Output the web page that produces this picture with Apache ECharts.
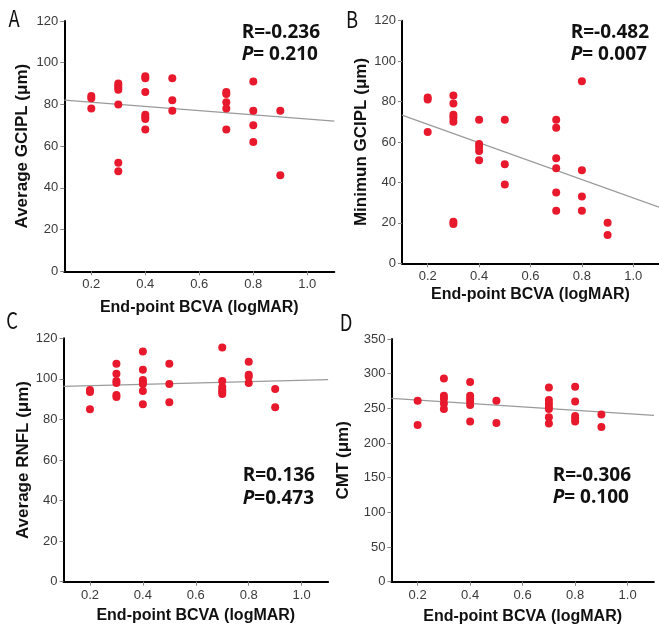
<!DOCTYPE html>
<html><head><meta charset="utf-8">
<script src="https://cdn.jsdelivr.net/npm/echarts@6/dist/echarts.min.js"></script>
<style>html,body{margin:0;padding:0;background:#fff}#c{width:659px;height:632px}</style>
</head><body><div id="c"></div>
<script>
// Panel A: Average GCIPL
var aX = [0.2,0.2,0.2, 0.3,0.3,0.3,0.3,0.3,0.3,0.3, 0.4,0.4,0.4,0.4,0.4,0.4,0.4, 0.5,0.5,0.5, 0.7,0.7,0.7,0.7,0.7, 0.8,0.8,0.8,0.8, 0.9,0.9];
var aY = [84,83,78, 90,89,88,87,80,52,48, 93.5,92.5,86,75,74,73,68, 92.5,82,77, 86,85,81,78,68, 91,77,70,62, 77,46];
var aLine = [[0.1,82.1],[1.1,72.0]];
// Panel B: Minimum GCIPL
var bX = [0.2,0.2,0.2, 0.3,0.3,0.3,0.3,0.3,0.3,0.3, 0.4,0.4,0.4,0.4,0.4, 0.5,0.5,0.5, 0.7,0.7,0.7,0.7,0.7,0.7, 0.8,0.8,0.8,0.8, 0.9,0.9];
var bY = [82,81,65, 83,79,73.5,72,70,20.5,19.5, 71,59,57.5,55.5,51, 71,49,39, 71,67,52,47,35,26, 90,46,33,26, 20,14];
var bLine = [[0.1,73.3],[1.1,27.8]];
// Panel C: Average RNFL
var cX = [0.2,0.2,0.2, 0.3,0.3,0.3,0.3,0.3,0.3, 0.4,0.4,0.4,0.4,0.4,0.4,0.4, 0.5,0.5,0.5, 0.7,0.7,0.7,0.7,0.7,0.7, 0.8,0.8,0.8,0.8, 0.9,0.9];
var cY = [94.5,93.5,85, 107.5,102.5,99,98,92,91, 113.5,104.5,99.5,98.5,97.5,94,87.5, 107.5,97.5,88.5, 115.5,99,96,94.5,93.5,92.5, 108.5,102,101,98, 95,86];
var cLine = [[0.1,96.3],[1.1,99.6]];
// Panel D: CMT
var dX = [0.2,0.2, 0.3,0.3,0.3,0.3,0.3, 0.4,0.4,0.4,0.4,0.4,0.4, 0.5,0.5, 0.7,0.7,0.7,0.7,0.7,0.7,0.7, 0.8,0.8,0.8,0.8,0.8, 0.9,0.9];
var dY = [261,226, 293,268,264,257,249, 288,268,264,260,255,231, 261,229, 280,262,257,252,249,237,228, 281,260,239,235,231, 241,223];
var dLine = [[0.1,264.4],[1.1,240]];

var xTicks = [0.2,0.4,0.6,0.8,1.0];
var xTitle = 'End-point BCVA (logMAR)';
var yTitles = ['Average GCIPL (μm)','Minimun GCIPL (μm)','Average RNFL (μm)','CMT (μm)'];
var yMax = [120,120,120,350];
var yStep = [20,20,20,50];
var rTexts = ['R=-0.236','R=-0.482','R=0.136','R=-0.306'];
var pTexts = ['= 0.210','= 0.007','=0.473','= 0.100'];
var letters = ['A','B','C','D'];

var pts = [[aX,aY],[bX,bY],[cX,cY],[dX,dY]];
var lines = [aLine,bLine,cLine,dLine];

var grids = [
  {left:64.3, top:21, width:270, height:250.3},
  {left:402, top:20.7, width:259.3, height:242.6},
  {left:63.5, top:338.3, width:264.6, height:243.4},
  {left:391.4, top:339, width:262.5, height:242.7}
];
var xGaps = [28,23,26,27];
var yGaps = [33,32,31,40];
var statPos = [[241.7,33,55],[570.7,33,55],[242.7,475.7,498.3],[552.7,475.7,497.7]];
var letterPos = [[14,18],[352,19],[12,320],[346,322]];

var xAxes=[], yAxes=[], series=[], graphics=[];
for (var i=0;i<4;i++){
  xAxes.push({gridIndex:i, type:'value', min:0.1, max:1.1,
    name:xTitle, nameLocation:'middle', nameGap:xGaps[i],
    nameTextStyle:{fontFamily:'Liberation Sans', fontWeight:'bold', fontSize:16, color:'#111'},
    axisLine:{show:true, lineStyle:{color:'#000', width:2}},
    axisTick:{show:true, customValues:xTicks, length:4, lineStyle:{color:'#888'}},
    axisLabel:{customValues:xTicks, margin:7, fontFamily:'Liberation Sans', fontSize:13, color:'#3a3a3a',
      formatter:function(v){return v.toFixed(1);}},
    splitLine:{show:false}});
  yAxes.push({gridIndex:i, type:'value', min:0, max:yMax[i], interval:yStep[i],
    name:yTitles[i], nameLocation:'middle', nameGap:yGaps[i],
    nameTextStyle:{fontFamily:'Liberation Sans', fontWeight:'bold', fontSize:17, color:'#111'},
    axisLine:{show:true, lineStyle:{color:'#000', width:2}},
    axisTick:{show:true, length:4, lineStyle:{color:'#888'}},
    axisLabel:{margin:6, fontFamily:'Liberation Sans', fontSize:13, color:'#3a3a3a'},
    splitLine:{show:false}});
  var d = pts[i][0].map(function(x,k){return [x, pts[i][1][k]];});
  series.push({type:'line', xAxisIndex:i, yAxisIndex:i, data:lines[i], symbol:'none',
    lineStyle:{color:'#9a9a9a', width:1.2}, silent:true, z:1});
  series.push({type:'scatter', xAxisIndex:i, yAxisIndex:i, data:d, symbol:'circle', symbolSize:8,
    itemStyle:{color:'#e8192c', opacity:1}, z:2});
  graphics.push({type:'text', x:statPos[i][0], y:statPos[i][1],
    style:{text:rTexts[i], fontFamily:'Open Sans', fontWeight:'bold', fontSize:19, fill:'#111', verticalAlign:'middle'}});
  graphics.push({type:'text', x:statPos[i][0], y:statPos[i][2],
    style:{text:'{i|P}'+pTexts[i], fontFamily:'Open Sans', fontWeight:'bold', fontSize:19, fill:'#111', verticalAlign:'middle',
      rich:{i:{fontFamily:'Open Sans', fontWeight:'bold', fontStyle:'italic', fontSize:19, fill:'#111'}}}});
  graphics.push({type:'text', x:letterPos[i][0], y:letterPos[i][1], scaleX:0.8,
    style:{text:letters[i], fontFamily:'Noto Sans CJK SC', fontSize:23, fill:'#111', align:'center', verticalAlign:'middle'}});
}

var chart = echarts.init(document.getElementById('c'), null, {renderer:'canvas'});
chart.setOption({
  animation:false,
  backgroundColor:'#fff',
  grid:grids,
  xAxis:xAxes,
  yAxis:yAxes,
  series:series,
  graphic:graphics
});
</script></body></html>
